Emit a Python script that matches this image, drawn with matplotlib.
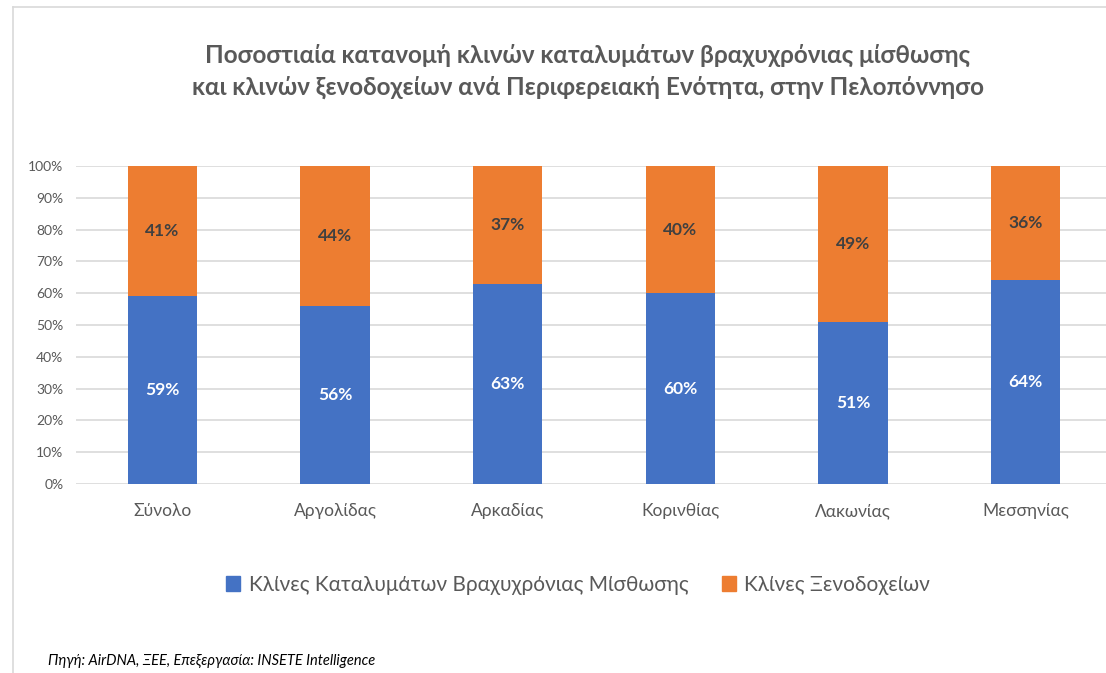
import matplotlib
matplotlib.use("Agg")
from matplotlib import pyplot as plt
from matplotlib.lines import Line2D
from matplotlib.patches import Patch

plt.rcParams['font.family'] = ['Lato', 'DejaVu Sans']

regions = ["Σύνολο", "Αργολίδας", "Αρκαδίας", "Κορινθίας", "Λακωνίας", "Μεσσηνίας"]
short_term = [59, 56, 63, 60, 51, 64]
hotels = [41, 44, 37, 40, 49, 36]
series_names = ["Κλίνες Καταλυμάτων Βραχυχρόνιας Μίσθωσης", "Κλίνες Ξενοδοχείων"]
yticks = [0, 10, 20, 30, 40, 50, 60, 70, 80, 90, 100]

blue = "#4472C4"
orange = "#ED7D31"
gray_text = "#595959"

fig = plt.figure(figsize=(11.06, 6.73), dpi=100)
ax = fig.add_axes([76 / 1106, 1 - 484 / 673, 1036 / 1106, 318 / 673])

x = list(range(len(regions)))
b1 = ax.bar(x, short_term, width=0.4, color=blue, zorder=3)
b2 = ax.bar(x, hotels, width=0.4, bottom=short_term, color=orange, zorder=3)

# labels in the middle of each segment
for i in x:
    ax.text(i, short_term[i] / 2, f"{short_term[i]}%", ha="center", va="center",
            color="white", fontsize=12.5, fontweight="bold", zorder=4)
    ax.text(i, short_term[i] + hotels[i] / 2, f"{hotels[i]}%", ha="center", va="center",
            color="#404040", fontsize=12.5, fontweight="bold", zorder=4)

ax.set_xlim(-0.5, len(regions) - 0.5)
ax.set_ylim(0, 100)
ax.set_yticks(yticks)
ax.set_yticklabels([f"{t}%" for t in yticks])
ax.set_xticks(x)
ax.set_xticklabels(regions)
ax.tick_params(axis="y", length=0, pad=9, labelsize=10, labelcolor=gray_text)
ax.tick_params(axis="x", length=0, pad=14, labelsize=12.5, labelcolor=gray_text)
ax.grid(axis="y", color="#D9D9D9", linewidth=1.2, zorder=0)
for s in ax.spines.values():
    s.set_visible(False)

fig.text(588 / 1106, 1 - 71 / 673,
         "Ποσοστιαία κατανομή κλινών καταλυμάτων βραχυχρόνιας μίσθωσης\n"
         "και κλινών ξενοδοχείων ανά Περιφερειακή Ενότητα, στην Πελοπόννησο",
         ha="center", va="center", fontsize=17.5, fontweight="bold",
         color=gray_text, linespacing=1.45)

handles = [Patch(color=blue), Patch(color=orange)]
fig.legend(handles, series_names, loc="center", bbox_to_anchor=(578 / 1106, 1 - 585 / 673),
           ncol=2, frameon=False, fontsize=15, handlelength=0.7, handleheight=0.7,
           handletextpad=0.4, columnspacing=1.6, labelcolor=gray_text)

fig.text(48 / 1106, 1 - 661 / 673, "Πηγή: AirDNA, ΞΕΕ, Επεξεργασία: INSETE Intelligence",
         ha="left", va="center", fontsize=10.5, style="italic", color="black")

# chart frame
fig.add_artist(Line2D([13 / 1106, 13 / 1106], [0, 1 - 7 / 673], color="#D9D9D9", lw=1.2))
fig.add_artist(Line2D([13 / 1106, 1], [1 - 7 / 673, 1 - 7 / 673], color="#D9D9D9", lw=1.2))

fig.savefig("out.png", dpi=100)
